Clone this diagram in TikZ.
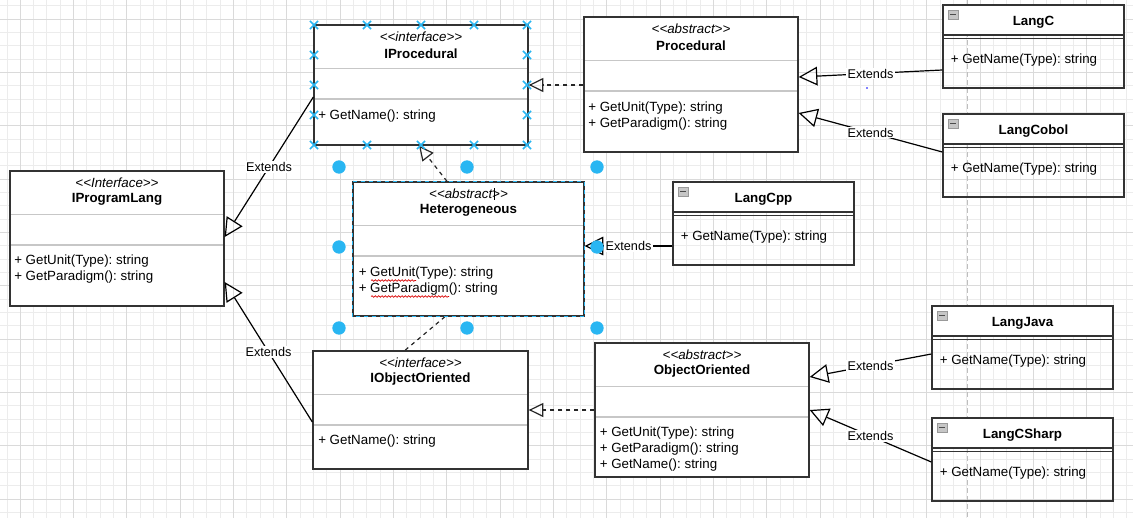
\documentclass[tikz,border=0pt]{standalone}
\usepackage{fontspec}
\setmainfont{Liberation Sans}
\usetikzlibrary{arrows.meta,fit,shapes.misc,decorations.pathmorphing}
\frenchspacing

\definecolor{selblue}{RGB}{41,182,242}
\definecolor{gridminor}{RGB}{236,236,236}
\definecolor{gridmajor}{RGB}{218,218,218}
\definecolor{pagebreak}{RGB}{190,190,190}

\newcommand{\stereo}[1]{\textit{<\kern0pt<#1>\kern0pt>}}

\tikzset{
    classbox/.style={draw=black!80, line width=1pt, inner sep=0pt},
    divider/.style={draw=black!22, line width=1.2pt},
    classline/.style={draw=black!80, line width=1pt},
    cname/.style={font=\bfseries, inner sep=0pt},
    member/.style={anchor=west, align=left, inner sep=0pt},
    minusbox/.style={draw=gray!80, fill=gray!45, line width=0.5pt},
    minusbar/.style={draw=black!70, line width=0.9pt},
    extends/.style={draw=black, line width=0.9pt, -{Triangle[open, length=14pt, width=14pt]}},
    realize/.style={draw=black!85, line width=0.9pt, dash pattern=on 3pt off 3pt, -{Triangle[open, length=11pt, width=10.5pt]}},
    lbl/.style={fill=white, inner sep=1pt, font=\fontsize{9.5}{11}\selectfont},
    spell/.style={draw=red!85!black, line width=0.5pt, decorate, decoration={snake, amplitude=0.6pt, segment length=2.5pt}},
    handlex/.style={cross out, draw=selblue, line width=1.1pt, minimum size=5pt, inner sep=0pt},
}

\begin{document}
\begin{tikzpicture}[x=0.75pt, y=-0.75pt]
    \useasboundingbox (0,0) rectangle (1133,518);
    \fill[white] (0,0) rectangle (1133,518);

    \foreach \k in {0,...,84}
        \draw[gridminor, line width=0.75pt] ({7+13.333*\k},0) -- ({7+13.333*\k},518);
    \foreach \k in {0,...,38}
        \draw[gridminor, line width=0.75pt] (0,{5.7+13.333*\k}) -- (1133,{5.7+13.333*\k});
    \foreach \k in {0,...,20}
        \draw[gridmajor, line width=0.75pt] ({20.33+53.333*\k},0) -- ({20.33+53.333*\k},518);
    \foreach \k in {0,...,9}
        \draw[gridmajor, line width=0.75pt] (0,{19+53.333*\k}) -- (1133,{19+53.333*\k});

    \draw[pagebreak, line width=0.75pt, dash pattern=on 3.75pt off 2.25pt] (967,0) -- (967,518);

    \foreach \nm/\x/\y/\w/\h/\kind/\lbl in {
        iproc/314/25/214/120/interface/IProcedural,
        proc/584/17/214/135/abstract/Procedural,
        iprog/10/171/214/135/Interface/IProgramLang,
        het/353/182/231/134/abstract/Heterogeneous,
        iobj/313/351/215/118/interface/IObjectOriented,
        oo/595/343/214/134/abstract/ObjectOriented} {
        \node[classbox, fill=white, fit={(\x,\y) (\x+\w,\y+\h)}] (\nm) {};
        \draw[divider] (\x+1,\y+43.5) -- (\x+\w-1,\y+43.5) (\x+1,\y+74) -- (\x+\w-1,\y+74);
        \node at (\x+\w/2,\y+12) {\stereo{\kind}};
        \node[cname] at (\x+\w/2,\y+28.5) {\lbl};
    }

    \node[member] at (318,116) {+ GetName(): string};
    \node[member] at (588,116) {+ GetUnit(Type): string\\+ GetParadigm(): string};
    \node[member] at (14,269) {+ GetUnit(Type): string\\+ GetParadigm(): string};
    \node[member] at (358.5,281) {+ GetUnit(Type): string\\+ GetParadigm(): string};
    \node[member] at (318,441) {+ GetName(): string};
    \node[member] at (599.5,449.5) {+ GetUnit(Type): string\\+ GetParadigm(): string\\+ GetName(): string};

    \foreach \nm/\x/\y/\lbl in {
        langc/943/5/LangC,
        langcobol/943/114/LangCobol,
        langcpp/673/182/LangCpp,
        langjava/932/306/LangJava,
        langcsharp/932/418/LangCSharp} {
        \fill[white] (\x,\y) rectangle (\x+181,\y+30);
        \node[classbox, fit={(\x,\y) (\x+181,\y+83)}] (\nm) {};
        \draw[classline] (\x,\y+30) -- (\x+181,\y+30) (\x,\y+33.5) -- (\x+181,\y+33.5);
        \draw[minusbox] (\x+5,\y+5) rectangle (\x+15,\y+14);
        \draw[minusbar] (\x+7,\y+9.5) -- (\x+13,\y+9.5);
        \node[cname] at (\x+90.5,\y+17) {\lbl};
        \node[member] at (\x+7.5,\y+55) {+ GetName(Type): string};
    }

    \draw[spell] (371,280.5) -- (416,280.5);
    \draw[spell] (371,296.5) -- (449,296.5);
    \draw[line width=0.6pt] (494,188) -- (494,200);

    \draw[extends] (iproc.west |- 0,97) -- node[lbl] {Extends} (iprog.east |- 0,237);
    \draw[extends] (iobj.west |- 0,422) -- node[lbl] {Extends} (iprog.east |- 0,282);
    \draw[realize] (proc.west |- 0,85) -- (iproc.east |- 0,85);
    \draw[realize] (het.north -| 447,0) -- (iproc.south -| 419,0);
    \draw[draw=black!85, line width=0.9pt, dash pattern=on 3pt off 3pt] (het.south -| 445,0) -- (iobj.north -| 405,0);
    \draw[realize] (oo.west |- 0,410) -- (iobj.east |- 0,410);
    \draw[extends] (langcpp.west |- 0,246) -- node[lbl] {Extends} (het.east |- 0,246);
    \draw[extends] (langc.west |- 0,70) -- node[lbl] {Extends} (proc.east |- 0,77);
    \draw[extends] (langcobol.west |- 0,152) -- node[lbl] {Extends} (proc.east |- 0,113);
    \draw[extends] (langjava.west |- 0,354) -- node[lbl] {Extends} (oo.east |- 0,377);
    \draw[extends] (langcsharp.west |- 0,462) -- node[lbl] {Extends} (oo.east |- 0,410);

    \draw[selblue, line width=1pt, dash pattern=on 3pt off 3pt] (het.south west) rectangle (het.north east);
    \foreach \x in {314,367,421,474,527} {
        \node[handlex] at (\x,25) {};
        \node[handlex] at (\x,145) {};
    }
    \foreach \y in {55,85,115} {
        \node[handlex] at (314,\y) {};
        \node[handlex] at (527,\y) {};
    }
    \foreach \x/\y in {339/167, 467/167, 597/167, 339/247, 597/247, 339/328, 467/328, 597/328}
        \fill[selblue] (\x,\y) circle[radius=5pt];
    \fill[blue] (867,88) circle[radius=0.7pt];
\end{tikzpicture}
\end{document}
